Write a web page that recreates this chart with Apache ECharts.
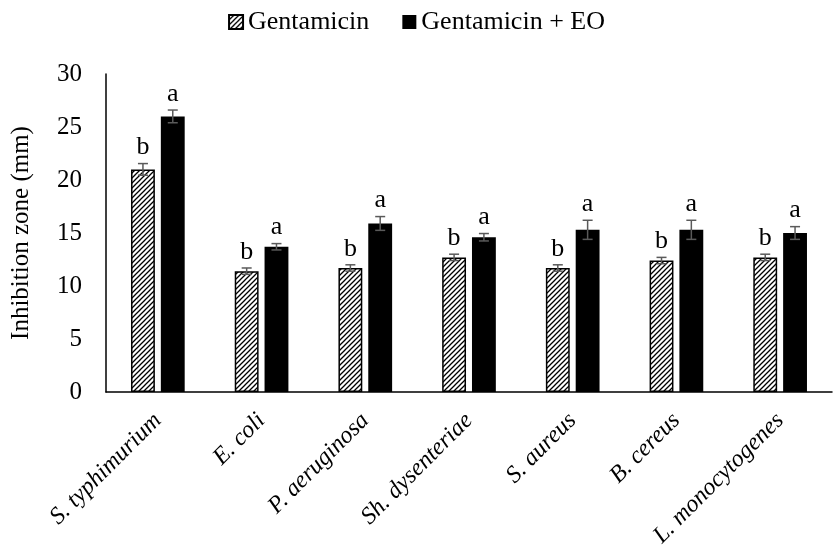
<!DOCTYPE html>
<html lang="en">
<head>
    <meta charset="utf-8">
    <title>Inhibition zone</title>
    <script src="https://cdn.jsdelivr.net/npm/echarts@6/dist/echarts.min.js"></script>
    <style type="text/css">
        html, body {
            width: 100%;
            height: 100%;
            margin: 0px;
            padding: 0px;
            background: #fff;
        }

        #main {
            width: 833px;
            height: 558px;
        }
    </style>
</head>
<body>
<div id="main"></div>
<script>
    // data
    var categories = ['S. typhimurium', 'E. coli', 'P. aeruginosa', 'Sh. dysenteriae', 'S. aureus', 'B. cereus', 'L. monocytogenes'];
    var gentamicin = [21.0, 11.4, 11.7, 12.7, 11.7, 12.4, 12.7];
    var gentamicinErr = [0.55, 0.3, 0.3, 0.3, 0.3, 0.3, 0.3];
    var gentamicinEO = [26.0, 13.7, 15.9, 14.6, 15.3, 15.3, 15.0];
    var gentamicinEOErr = [0.6, 0.3, 0.65, 0.35, 0.9, 0.9, 0.6];
    var gentamicinLetters = ['b', 'b', 'b', 'b', 'b', 'b', 'b'];
    var gentamicinEOLetters = ['a', 'a', 'a', 'a', 'a', 'a', 'a'];
    var yTicks = { min: 0, max: 30, interval: 5 };

    var font = '"Liberation Serif", "DejaVu Serif", serif';
    var barWidthRatio = 0.23;
    var barGapRatio = 0.25;

    // hatched fill ( / lines )
    var hatch = document.createElement('canvas');
    hatch.width = 5;
    hatch.height = 5;
    var ctx = hatch.getContext('2d');
    ctx.fillStyle = '#fff';
    ctx.fillRect(0, 0, 5, 5);
    ctx.strokeStyle = '#000';
    ctx.lineWidth = 1.3;
    ctx.beginPath();
    ctx.moveTo(-1, 6); ctx.lineTo(6, -1);
    ctx.moveTo(-1, 1); ctx.lineTo(1, -1);
    ctx.moveTo(4, 6); ctx.lineTo(6, 4);
    ctx.stroke();

    function buildErr(values, errs) {
        var out = [];
        for (var i = 0; i < values.length; i++) {
            out.push([i, values[i], errs[i]]);
        }
        return out;
    }

    // error bar + significance letter, side = -1 left bar, +1 right bar
    function errRender(side, letters) {
        return function (params, api) {
            var idx = api.value(0);
            var v = api.value(1);
            var e = api.value(2);
            var band = api.size([1, 0])[0];
            var off = side * band * barWidthRatio * (1 + barGapRatio) / 2;
            var top = api.coord([idx, v + e]);
            var bot = api.coord([idx, v - e]);
            var x = top[0] + off;
            var cap = 5;
            var style = { stroke: '#5a5a5a', lineWidth: 1.5 };
            return {
                type: 'group',
                children: [
                    { type: 'line', shape: { x1: x, y1: top[1], x2: x, y2: bot[1] }, style: style },
                    { type: 'line', shape: { x1: x - cap, y1: top[1], x2: x + cap, y2: top[1] }, style: style },
                    { type: 'line', shape: { x1: x - cap, y1: bot[1], x2: x + cap, y2: bot[1] }, style: style },
                    {
                        type: 'text',
                        x: x,
                        y: top[1] - 3,
                        style: {
                            text: letters[params.dataIndex],
                            fill: '#000',
                            font: '26px ' + font,
                            textAlign: 'center',
                            textVerticalAlign: 'bottom'
                        }
                    }
                ]
            };
        };
    }

    var myChart = echarts.init(document.getElementById('main'));

    var option = {
        backgroundColor: '#fff',
        animation: false,
        textStyle: { fontFamily: font, color: '#000' },
        legend: {
            data: ['Gentamicin', 'Gentamicin + EO'],
            top: 4,
            left: 'center',
            icon: 'rect',
            itemWidth: 14,
            itemHeight: 14,
            itemGap: 33,
            textStyle: { fontFamily: font, fontSize: 26, color: '#000' }
        },
        grid: {
            left: 106,
            right: 1,
            top: 74,
            bottom: 166
        },
        xAxis: {
            type: 'category',
            data: categories,
            axisLine: { lineStyle: { color: '#000', width: 1.5 } },
            axisTick: { show: false },
            axisLabel: {
                rotate: 45,
                interval: 0,
                margin: 25,
                fontStyle: 'italic',
                fontSize: 24,
                fontFamily: font,
                color: '#000'
            }
        },
        yAxis: {
            type: 'value',
            min: yTicks.min,
            max: yTicks.max,
            interval: yTicks.interval,
            name: 'Inhibition zone (mm)',
            nameLocation: 'middle',
            nameGap: 72,
            nameTextStyle: { fontFamily: font, fontSize: 25, color: '#000' },
            axisLine: { show: true, lineStyle: { color: '#000', width: 1.5 } },
            axisTick: { show: false },
            splitLine: { show: false },
            axisLabel: { fontSize: 25, margin: 24, fontFamily: font, color: '#000' }
        },
        series: [
            {
                name: 'Gentamicin',
                type: 'bar',
                data: gentamicin,
                barWidth: (barWidthRatio * 100) + '%',
                barGap: (barGapRatio * 100) + '%',
                itemStyle: {
                    color: { image: hatch, repeat: 'repeat' },
                    borderColor: '#000',
                    borderWidth: 1.5
                }
            },
            {
                name: 'Gentamicin + EO',
                type: 'bar',
                data: gentamicinEO,
                barWidth: (barWidthRatio * 100) + '%',
                barGap: (barGapRatio * 100) + '%',
                itemStyle: { color: '#000' }
            },
            {
                name: 'errG',
                type: 'custom',
                renderItem: errRender(-1, gentamicinLetters),
                encode: { x: 0, y: 1 },
                data: buildErr(gentamicin, gentamicinErr),
                z: 10
            },
            {
                name: 'errEO',
                type: 'custom',
                renderItem: errRender(1, gentamicinEOLetters),
                encode: { x: 0, y: 1 },
                data: buildErr(gentamicinEO, gentamicinEOErr),
                z: 10
            }
        ]
    };

    myChart.setOption(option);
</script>
</body>
</html>
